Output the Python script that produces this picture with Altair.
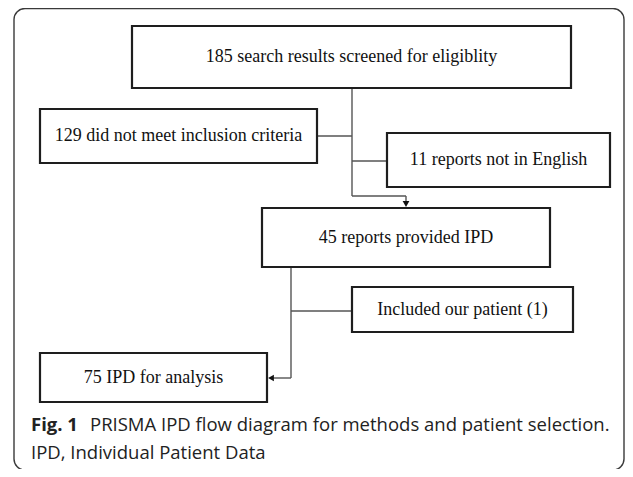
import altair as alt
import pandas as pd

# ---- box content (flow diagram nodes) ----
box_labels = [
    "185 search results screened for eligiblity",
    "129 did not meet inclusion criteria",
    "11 reports not in English",
    "45 reports provided IPD",
    "Included our patient (1)",
    "75 IPD for analysis",
]
box_x1 = [132, 40, 387, 262, 352, 40]
box_x2 = [571, 317, 610, 550, 573, 267]
box_y1 = [26, 109, 133, 208, 287, 353]
box_y2 = [88, 163, 187, 267, 332, 402]

# ---- connector segments ----
seg_x1 = [352, 317, 352, 352, 406, 291, 291, 291]
seg_y1 = [88, 136, 161, 196, 196, 267, 311, 378]
seg_x2 = [352, 352, 387, 406, 406, 291, 352, 272]
seg_y2 = [196, 136, 161, 196, 203, 378, 311, 378]

# ---- arrow heads ----
arrow_x = [406, 271]
arrow_y = [204, 378]
arrow_shape = ["triangle-down", "triangle-left"]

# ---- caption ----
cap_bold = "Fig. 1"
cap_line1 = "PRISMA IPD flow diagram for methods and patient selection."
cap_line2 = "IPD, Individual Patient Data"

W, H = 617, 461
xs = alt.Scale(domain=[8, 8 + W], nice=False, zero=False)
ys = alt.Scale(domain=[8, 8 + H], nice=False, zero=False, reverse=True)

boxes = pd.DataFrame({
    "label": box_labels, "x1": box_x1, "x2": box_x2, "y1": box_y1, "y2": box_y2,
})
boxes["cx"] = (boxes.x1 + boxes.x2) / 2
boxes["cy"] = (boxes.y1 + boxes.y2) / 2

segs = pd.DataFrame({"x1": seg_x1, "y1": seg_y1, "x2": seg_x2, "y2": seg_y2})
arrows = pd.DataFrame({"x": arrow_x, "y": arrow_y, "shape": arrow_shape})
frame = pd.DataFrame({"x1": [14], "x2": [624], "y1": [8.5], "y2": [470]})

X = lambda f: alt.X(f, type="quantitative", scale=xs, axis=None)
Y = lambda f: alt.Y(f, type="quantitative", scale=ys, axis=None)

frame_layer = alt.Chart(frame).mark_rect(
    fill="white", stroke="#3a3a3a", strokeWidth=1.4, cornerRadius=11
).encode(x=X("x1"), x2="x2", y=Y("y1"), y2="y2")

seg_layer = alt.Chart(segs).mark_rule(color="#555555", strokeWidth=1.4).encode(
    x=X("x1"), x2="x2", y=Y("y1"), y2="y2"
)

box_layer = alt.Chart(boxes).mark_rect(
    fill="white", stroke="#1e1e1e", strokeWidth=2.2
).encode(x=X("x1"), x2="x2", y=Y("y1"), y2="y2")

box_text = alt.Chart(boxes).mark_text(
    font="Liberation Serif", fontSize=18, color="#111111",
    align="center", baseline="middle"
).encode(x=X("cx"), y=Y("cy"), text="label:N")

arrow_layer = alt.Chart(arrows).mark_point(
    filled=True, color="#111111", size=45, opacity=1
).encode(
    x=X("x"), y=Y("y"),
    shape=alt.Shape("shape:N", scale=None, legend=None),
)

cap = pd.DataFrame({
    "x": [31, 90, 31], "y": [431, 431, 459],
    "t": [cap_bold, cap_line1, cap_line2],
})
cap_bold_layer = alt.Chart(cap.iloc[[0]]).mark_text(
    font="Open Sans", fontSize=18.5, fontWeight="bold", color="#222222",
    align="left", baseline="alphabetic"
).encode(x=X("x"), y=Y("y"), text="t:N")
cap_reg_layer = alt.Chart(cap.iloc[[1, 2]]).mark_text(
    font="Open Sans", fontSize=18.5, color="#222222",
    align="left", baseline="alphabetic"
).encode(x=X("x"), y=Y("y"), text="t:N")

chart = alt.layer(
    frame_layer, seg_layer, box_layer, box_text, arrow_layer,
    cap_bold_layer, cap_reg_layer
).properties(
    width=W, height=H, padding=0, autosize=alt.AutoSizeParams(type="none"),
    background="white"
).configure_view(stroke=None)

chart.save("out.html", embed_options={"renderer": "svg", "actions": False})
